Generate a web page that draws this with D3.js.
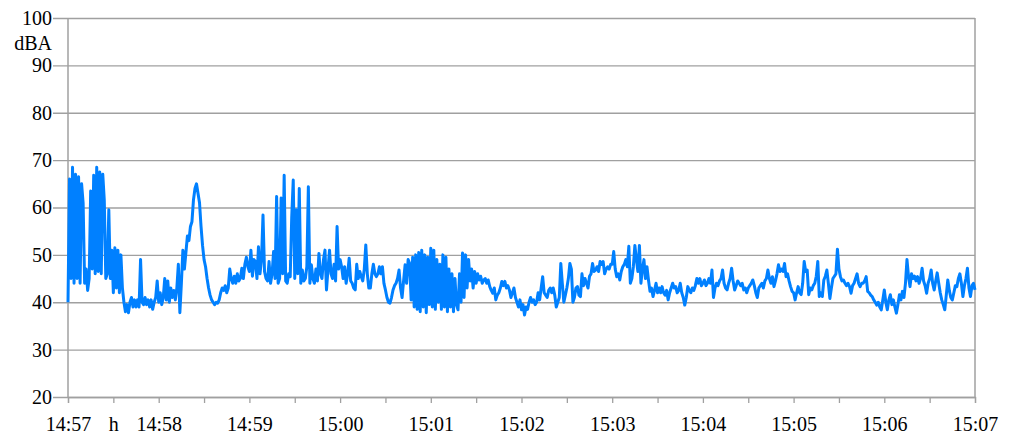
<!DOCTYPE html>
<html><head><meta charset="utf-8">
<script src="https://cdn.jsdelivr.net/npm/d3@7"></script>
<style>
body{margin:0;background:#fff}
svg{display:block;font-family:"Times New Roman","Liberation Serif",Tinos,serif}
svg text{font-family:"Times New Roman","Liberation Serif",Tinos,serif !important;font-size:20px !important;font-weight:400}
</style>
</head><body><svg id="c" width="1013" height="435"></svg>
<script>
const sampleStepSeconds = 1;
const levels = [
// 14:57
40, 66, 45, 68.5, 44, 67, 45, 66.5, 44, 65, 61, 44, 47, 42.5, 45, 63.5, 47, 66.8, 46, 68.5,
46.5, 67.5, 46, 67, 61.5, 45, 46, 59.5, 45, 51, 42, 51.5, 43, 51, 42, 50, 43, 40, 38, 39.5,
37.8, 40, 41, 39, 40.5, 39, 40.5, 39, 49, 40, 39.5, 41, 39.5, 40.5, 39, 40.5, 38.5, 40, 41, 44.5,
// 14:58
40, 42, 39.5, 41, 45, 40.5, 44.5, 40, 43, 41, 42.5, 40.5, 43, 48, 37.8, 44, 51, 47, 50.5, 54,
53, 56, 57, 61.6, 64, 65, 63, 61, 56, 52, 49, 47.5, 45, 43, 41.5, 40.5, 40, 39.5, 40, 39.8,
40.5, 42, 43, 42.5, 43.5, 42, 43, 47, 45, 44, 45.5, 44, 46, 44.5, 45, 47.2, 45, 48, 49.5, 47.5,
// 14:59
46.5, 51, 45.5, 49, 48.6, 45, 51.7, 46, 49, 58.4, 46.5, 45, 44.5, 48.6, 44, 46, 50.7, 45, 62.3, 44,
45, 62, 46, 66.8, 44.5, 44, 46, 45.4, 58, 65.8, 45, 59.5, 46, 64, 44, 46.8, 44.5, 45, 47.5, 64.4,
44, 47.9, 45, 44, 47, 44.5, 50.3, 46, 45, 49, 51, 42.6, 47, 51, 46, 45, 48, 44.5, 56, 47,
// 15:00
49, 47.5, 45, 47.5, 44, 46, 49.3, 44.5, 44, 43, 42.6, 48, 45, 46.5, 45.4, 44.5, 47, 52.1, 46, 43,
43, 46, 48, 46, 45.4, 46, 47.5, 46, 47.5, 44, 42.6, 41, 40, 39.8, 41, 42.6, 43.5, 44, 45, 46.8,
43, 41, 44.5, 47.9, 44, 49, 48.2, 40.5, 49.5, 39, 50, 38.5, 50.5, 38, 51, 39, 50, 37.8, 49.5, 39.5,
// 15:01
51.4, 39, 51, 38.5, 49, 40, 48, 38.5, 50, 39, 49.5, 38, 47, 39, 46, 38, 45, 39.5, 38.4, 46,
40, 50.4, 41, 50, 43, 49, 44.5, 47, 43, 46.5, 44, 46, 44.7, 45.5, 44, 44.7, 45, 44, 44.7, 43.3,
42.5, 41.9, 43, 40.5, 41.5, 42, 43, 44.4, 43.5, 44.4, 43, 43.5, 42.6, 41, 42, 43, 41, 40, 39, 40.5,
// 15:02
38.4, 39.5, 37.3, 39, 38.5, 40, 41, 40, 40.5, 39.5, 40, 42, 40.5, 43, 45.4, 42, 41.5, 41, 42.5, 43,
42, 43, 41.5, 39, 40, 41, 48.2, 44, 40, 41.5, 43, 45, 48.2, 47, 40, 41, 43, 43.3, 41.5, 41.2,
46, 43.5, 45, 44, 43, 45.5, 46, 48.2, 46.5, 46.8, 47.5, 46.5, 48.6, 48, 48.6, 46, 47, 47.5, 47, 48,
// 15:03
48, 50.7, 47, 45.4, 46, 44.7, 46.5, 47.5, 48, 49, 47.5, 51.8, 44, 45, 47.5, 52, 49, 46.5, 52, 44,
47, 49, 45, 47.5, 44.7, 42.3, 43, 41.2, 42.5, 44, 42, 43, 42, 43.3, 42, 41.5, 42.5, 40.5, 42, 43,
44, 43, 43.3, 42, 42.5, 44, 42, 41, 39.4, 41, 43.3, 42.5, 42, 43, 42.5, 43.5, 45, 44, 45, 43.5,
// 15:04
44, 44.7, 43.5, 44, 45, 44, 46.8, 41, 43, 44, 43.5, 44.5, 45, 46.8, 44, 43, 42.6, 44, 45, 47.2,
44.5, 42.6, 43.5, 44.5, 44, 43.5, 44, 42.6, 43, 42, 43, 43.5, 44, 44.7, 43.5, 42, 41, 43, 43.5, 44,
43, 44.5, 45, 46.8, 45, 44, 45.4, 43.3, 44.5, 46, 47.9, 46.5, 47, 46.5, 48.2, 45.4, 46, 44.5, 43.3, 42.3,
// 15:05
42, 40.5, 42, 43.3, 42, 41.6, 44, 48.6, 46.5, 46.8, 41.6, 43, 42.6, 43.5, 44, 45.5, 48.6, 41.2, 42, 41.2,
44.7, 45.5, 46.8, 44, 40.8, 43, 45, 45.5, 46, 51.2, 47, 45.4, 44.5, 44.7, 44, 43.5, 44, 43.3, 41.9, 43.5,
44, 45, 46, 44, 43.3, 44, 44, 44.5, 45.4, 42.3, 42, 41.5, 41.2, 40.5, 40, 39.4, 40, 39, 38.4, 40.5,
// 15:06
42.6, 40, 38.4, 40.5, 41.6, 39.5, 40.5, 39, 37.7, 39.5, 41.6, 40.5, 42.3, 41, 44, 49, 45.5, 43.3, 46, 45,
45.5, 44.5, 45.4, 44, 45, 47.2, 44.5, 43.5, 41.9, 44, 45, 46.8, 44, 42.6, 44.5, 46.2, 44, 42, 40.5, 39.5,
38.4, 41.5, 44.7, 42.5, 41, 40.5, 42, 43.5, 43.3, 45, 46, 44, 41.2, 43.5, 45, 47.2, 43, 41.2, 43.5, 44,
// 15:07
42.6
];
const yTicks = [20, 30, 40, 50, 60, 70, 80, 90, 100];
const yUnit = "dBA";
const xTickSeconds = [0,30,60,90,120,150,180,210,240,270,300,330,360,390,420,450,480,510,540,570,600];
const xTickLabels = ["14:57","h","14:58","","14:59","","15:00","","15:01","","15:02","","15:03","","15:04","","15:05","","15:06","","15:07"];

const svg = d3.select("#c");
const L = 68, R = 975, T = 18, B = 397;
const x = d3.scaleLinear().domain([0, 600]).range([L, R]);
const y = d3.scaleLinear().domain([20, 100]).range([B, T]);
const grid = "#a0a0a0";

svg.append("rect").attr("width", 1013).attr("height", 435).attr("fill", "#fff");

const gy = svg.append("g").attr("transform", `translate(${R},0)`)
  .call(d3.axisLeft(y).tickValues(yTicks).tickSize(R - 53).tickPadding(1));
gy.attr("font-family", null).attr("font-size", null);
gy.select(".domain").remove();
gy.selectAll(".tick line").attr("stroke", grid).attr("stroke-width", 1.3);
gy.selectAll("text").attr("fill", "#000");

svg.append("text").attr("x", 52).attr("y", 50).attr("text-anchor", "end").attr("fill", "#000").text(yUnit);

const gx = svg.append("g").attr("transform", `translate(0,${B})`)
  .call(d3.axisBottom(x).tickValues(xTickSeconds).tickSize(6).tickPadding(14)
    .tickFormat((d, i) => xTickLabels[i]));
gx.attr("font-family", null).attr("font-size", null);
gx.select(".domain").attr("stroke", grid).attr("stroke-width", 1.3);
gx.selectAll(".tick line").attr("stroke", grid).attr("stroke-width", 1.3);
gx.selectAll("text").attr("fill", "#000");

svg.append("line").attr("x1", L).attr("x2", L).attr("y1", T).attr("y2", B).attr("stroke", grid).attr("stroke-width", 1.5);
svg.append("line").attr("x1", R).attr("x2", R).attr("y1", T).attr("y2", B).attr("stroke", grid).attr("stroke-width", 1.5);

const line = d3.line().x((d, i) => x(i * sampleStepSeconds)).y(d => y(d));
svg.append("path").datum(levels).attr("d", line).attr("fill", "none")
  .attr("stroke", "#0080ff").attr("stroke-width", 3).attr("stroke-linejoin", "round");
</script></body></html>
